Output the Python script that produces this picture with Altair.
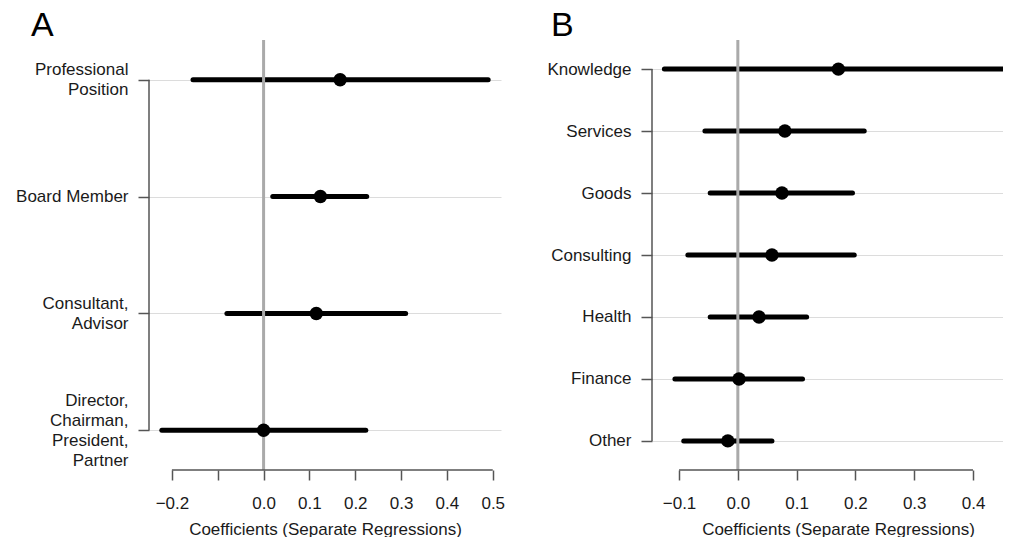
import altair as alt
import pandas as pd

# ---------------- data ----------------
a_labels = ["Professional\nPosition", "Board Member", "Consultant,\nAdvisor",
            "Director,\nChairman,\nPresident,\nPartner"]
a_coef = [0.167, 0.124, 0.115, 0.000]
a_low = [-0.154, 0.020, -0.080, -0.222]
a_high = [0.490, 0.225, 0.310, 0.223]
a_ticks = [-0.2, -0.1, 0.0, 0.1, 0.2, 0.3, 0.4, 0.5]

b_labels = ["Knowledge", "Services", "Goods", "Consulting", "Health", "Finance", "Other"]
b_coef = [0.171, 0.080, 0.075, 0.058, 0.036, 0.002, -0.017]
b_low = [-0.125, -0.056, -0.047, -0.085, -0.047, -0.107, -0.092]
b_high = [0.467, 0.215, 0.195, 0.198, 0.117, 0.110, 0.058]
b_ticks = [-0.1, 0.0, 0.1, 0.2, 0.3, 0.4]

FONT = "Liberation Sans"
TXT = "#1a1a1a"
AX = "#555555"
H = 430
XTITLE = "Coefficients (Separate Regressions)"


def panel(letter, labels, coef, low, high, ticks, xdomain, width, ypad,
          xlabel_expr, title_dx, min_extent, title_x=None):
    df = pd.DataFrame({"cat": labels, "coef": coef, "low": low, "high": high})
    yscale = alt.Scale(type="point", domain=labels, padding=ypad)
    xscale = alt.Scale(domain=xdomain, nice=False, zero=False)
    xaxis_kw = dict(values=ticks, format=".1f", labelExpr=xlabel_expr,
                    domain=False, grid=False, tickSize=10, tickColor=AX,
                    tickWidth=1.5, labelFontSize=17, labelFont=FONT,
                    labelColor=TXT, labelPadding=15, labelFlush=False,
                    labelOverlap=False, title=XTITLE, titleFontSize=17,
                    titleFont=FONT, titleFontWeight="normal", titleColor=TXT,
                    titlePadding=10)
    if title_x is not None:
        xaxis_kw["titleX"] = title_x
    xaxis = alt.Axis(**xaxis_kw)
    yaxis = alt.Axis(title=None, domain=False, grid=True, gridColor="#dcdcdc",
                     gridWidth=1, tickSize=11, tickColor=AX, tickWidth=1.5,
                     labelFontSize=17, labelFont=FONT, labelColor=TXT,
                     labelPadding=10, labelExpr="split(datum.label, '\\n')",
                     labelLineHeight=20, labelLimit=400, minExtent=min_extent,
                     labelOffset=alt.ExprRef(
                         expr="-10 * (length(split(datum.label, '\\n')) - 1)"))

    base = alt.Chart(df)
    ci = base.mark_rule(color="black", strokeWidth=5, strokeCap="round",
                        clip=True).encode(
        x=alt.X("low:Q", scale=xscale, axis=xaxis),
        x2="high:Q",
        y=alt.Y("cat:N", scale=yscale, axis=yaxis),
    )
    zero = alt.Chart(pd.DataFrame({"z": [0.0]})).mark_rule(
        color="#aaaaaa", strokeWidth=3).encode(
        x=alt.X("z:Q", scale=xscale, axis=xaxis))
    pts = base.mark_circle(size=180, color="black", opacity=1).encode(
        x=alt.X("coef:Q", scale=xscale, axis=xaxis),
        y=alt.Y("cat:N", scale=yscale, axis=yaxis),
    )
    yline = alt.Chart(pd.DataFrame({"y1": [labels[0]], "y2": [labels[-1]]})).mark_rule(
        color=AX, strokeWidth=1.5).encode(
        y=alt.Y("y1:N", scale=yscale, axis=yaxis),
        y2="y2:N",
        x=alt.value(0),
    )
    xline = alt.Chart(pd.DataFrame({"x1": [min(ticks)], "x2": [max(ticks)]})).mark_rule(
        color=AX, strokeWidth=1.5).encode(
        x=alt.X("x1:Q", scale=xscale, axis=xaxis),
        x2="x2:Q",
        y=alt.value(H),
    )
    return alt.layer(ci, zero, pts, yline, xline).properties(
        width=width, height=H,
        title=alt.TitleParams(text=letter, anchor="start", frame="group",
                              fontSize=34, font=FONT, fontWeight="normal",
                              color="black", dx=title_dx, baseline="alphabetic",
                              offset=-31),
    )


pa = panel("A", a_labels, a_coef, a_low, a_high, a_ticks, [-0.25, 0.518], 352,
           0.34, "abs(datum.value + 0.1) < 1e-9 ? '' : datum.label", -118, 141)
pb = panel("B", b_labels, b_coef, b_low, b_high, b_ticks, [-0.146, 0.451], 351,
           0.47, "datum.label", -101, 0, title_x=186)

chart = alt.hconcat(pa, pb, spacing=151, bounds="flush").properties(
    padding={"left": 0, "top": 0, "right": 0, "bottom": 0}
).configure_view(stroke=None)

chart.save("out.html", embed_options={"renderer": "svg", "actions": False})
